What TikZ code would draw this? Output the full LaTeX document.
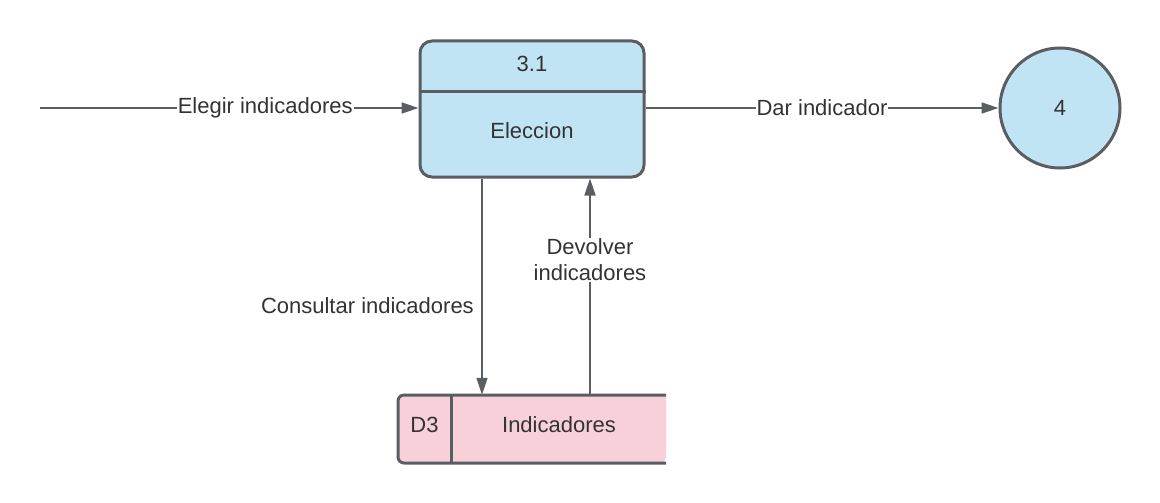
\documentclass[tikz,border=0pt]{standalone}
\usepackage{fontspec}
\setmainfont{Liberation Sans}
\usetikzlibrary{arrows.meta,calc}
\definecolor{edge}{HTML}{5A5D61}
\definecolor{procfill}{HTML}{C1E4F5}
\definecolor{dsfill}{HTML}{F8D0DA}
\definecolor{txt}{HTML}{333333}
\tikzset{
  flow/.style={draw=edge,line width=1.6pt,-{Triangle[length=17pt,width=11pt]}},
  lbl/.style={font=\fontsize{22}{26}\selectfont,text=txt,fill=white,inner sep=1pt},
  txtstyle/.style={font=\fontsize{22}{26}\selectfont,text=txt,inner sep=0pt},
}
\begin{document}
\begin{tikzpicture}[x=1pt,y=-1pt]
\useasboundingbox (0,0) rectangle (1160,503);
% process box
\node[draw=edge,fill=procfill,line width=3pt,rounded corners=12pt,minimum width=224pt,minimum height=136pt,inner sep=0pt] (proc) at (532,109) {};
\draw[edge,line width=3pt] (proc.west |- 0,92) -- (proc.east |- 0,92);
\node[txtstyle] (pnum) at (532,64) {3.1};
\node[txtstyle] (pname) at (532,131) {Eleccion};
% external circle
\node[circle,draw=edge,fill=procfill,line width=3pt,minimum size=120pt,inner sep=0pt] (ext) at (1060,108) {};
\node[txtstyle] at (ext.center) {4};
% data store
\node[minimum width=268pt,minimum height=68pt,inner sep=0pt] (ds) at (532,429) {};
\fill[dsfill,rounded corners=6pt] (666,395) -- (398,395) -- (398,463) -- (666,463) [sharp corners] -- cycle;
\draw[edge,line width=3pt,rounded corners=6pt] (666,395) -- (398,395) -- (398,463) -- (666,463);
\draw[edge,line width=3pt] (451,395) -- (451,463);
\node[txtstyle] (dsid) at (424.5,425) {D3};
\node[txtstyle] (dsname) at (559,425) {Indicadores};
% flows
\coordinate (src) at (40,108);
\draw[flow] (src) -- (proc.west |- 0,108) node[lbl,pos=0.595] {Elegir indicadores};
\draw[flow] (proc.east |- 0,108) -- (ext.west) node[lbl,pos=0.5] {Dar indicador};
\draw[flow] (proc.south -| 482,0) -- (ds.north -| 482,0);
\node[txtstyle,anchor=east] at (474,306) {Consultar indicadores};
\draw[flow] (ds.north -| 590,0) -- (proc.south -| 590,0);
\node[lbl,align=center,font=\fontsize{22}{26}\selectfont] at (590,260) {Devolver\\indicadores};
\end{tikzpicture}
\end{document}
